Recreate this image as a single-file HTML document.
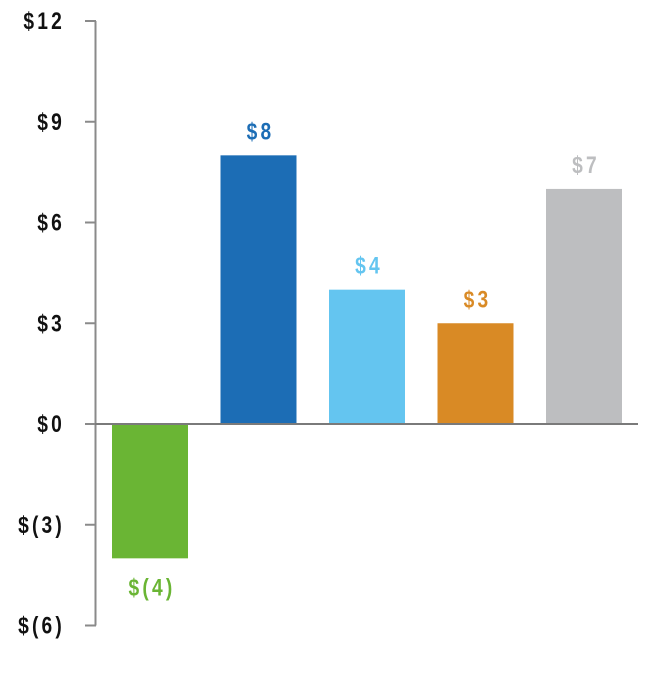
<!DOCTYPE html>
<html><head><meta charset="utf-8"><style>
body{margin:0;background:#fff;}
svg text{font-family:"Liberation Sans",Arial,sans-serif;font-weight:bold;}
</style></head><body>
<svg id="chart" width="658" height="690" xmlns="http://www.w3.org/2000/svg"></svg>
<script>
const categories=["a","b","c","d","e"];
const values=[-4,8,4,3,7];
const valueLabels=["$(4)","$8","$4","$3","$7"];
const colors=["#6ab534","#1c6db5","#64c5f0","#d98a25","#bdbec0"];
const ticks=[12,9,6,3,0,-3,-6];
const tickLabels=["$12","$9","$6","$3","$0","$(3)","$(6)"];
const NS="http://www.w3.org/2000/svg";
const svg=document.getElementById('chart');
const y=v=>424-v*(403/12);
const x=i=>112+i*108.5;
const bw=76;
function mk(t,a,p){const e=document.createElementNS(NS,t);for(const k in a)e.setAttribute(k,a[k]);(p||svg).appendChild(e);return e;}
function label(px,py,anchor,fill,txt){
  const g=mk('g',{transform:'translate('+px+','+py+') scale(0.8,1)'});
  const t=mk('text',{x:0,y:0,'text-anchor':anchor,'font-size':24,'letter-spacing':4,fill:fill},g);
  t.textContent=txt;
  return t;
}
const ax=mk('line',{x1:95.5,x2:95.5,y1:y(12),y2:y(-6),stroke:'#8a8a8a','stroke-width':2});


ticks.forEach((t,i)=>{
  const l=mk('line',{x1:85,x2:96,y1:y(t),y2:y(t),stroke:'#8a8a8a','stroke-width':2});
  
  
  const tx=label(65,y(t)+8,'end','#111',tickLabels[i]);
  
  
});
values.forEach((v,i)=>{
  const top=Math.min(y(v),y(0)),h=Math.abs(y(v)-y(0));
  const r=mk('rect',{x:x(i),y:top,width:bw,height:h,fill:colors[i]});
  
  
  const ly=v>=0?y(v)-16:y(v)+37;
  const t=label(x(i)+bw/2+2,ly,'middle',colors[i],valueLabels[i]);
  
  
});
const z=mk('line',{x1:95,x2:638,y1:y(0),y2:y(0),stroke:'#7a7a7a','stroke-width':2});


</script>
</body></html>
